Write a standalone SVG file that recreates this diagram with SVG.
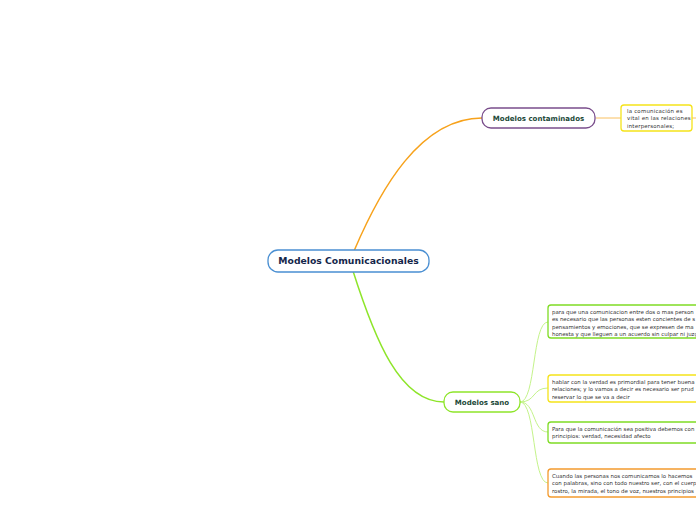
<svg xmlns="http://www.w3.org/2000/svg" width="696" height="520" viewBox="0 0 696 520">
<style>
.node{fill:#fff;stroke-width:1.3}
.main{font-family:"DejaVu Sans",sans-serif;font-weight:bold;font-size:9.25px;fill:#14264a}
.sub{font-family:"DejaVu Sans",sans-serif;font-weight:bold;font-size:7.05px;fill:#1d4a3a}
.sm{font-family:"DejaVu Sans",sans-serif;font-size:5.45px;fill:#333}
.wide{letter-spacing:0.2px}
.c{fill:none}
</style>
<rect width="696" height="520" fill="#fff"/>
<g id="connectors">
<path class="c" d="M354,251 C380,190 420,118 482,118" stroke="#f7a21b" stroke-width="1.5"/>
<path class="c" d="M596,118 L621,118" stroke="#f9c060" stroke-width="1"/>
<path class="c" d="M692,118 L696,118" stroke="#f9c060" stroke-width="1"/>
<path class="c" d="M353,271 C375,340 400,402 444,402" stroke="#8ee52a" stroke-width="1.5"/>
<path class="c" d="M520,402 C536,402 532,322 548,322" stroke="#c4f38a" stroke-width="1"/>
<path class="c" d="M520,402 C536,402 532,388 548,388" stroke="#c4f38a" stroke-width="1"/>
<path class="c" d="M520,402 C536,402 532,432 548,432" stroke="#c4f38a" stroke-width="1"/>
<path class="c" d="M520,402 C536,402 532,483 548,483" stroke="#c4f38a" stroke-width="1"/>
</g>
<g id="center">
<rect class="node" x="268" y="250" width="161" height="22" rx="10" stroke="#4a8fd2"/>
<text class="main" x="348.5" y="264.3" text-anchor="middle">Modelos Comunicacionales</text>
</g>
<g id="contaminados">
<rect class="node" x="482" y="108" width="113" height="20" rx="9" stroke="#7a4e8c"/>
<text class="sub" x="538.5" y="120.7" text-anchor="middle">Modelos contaminados</text>
</g>
<g id="cont-child">
<rect class="node" x="621" y="105" width="71" height="26" rx="3" stroke="#f5e31a"/>
<text class="sm wide" x="627" y="113">la comunicación es</text>
<text class="sm wide" x="627" y="120.3">vital en las relaciones</text>
<text class="sm wide" x="627" y="127.6">interpersonales;</text>
</g>
<g id="sano">
<rect class="node" x="444" y="392" width="76" height="20" rx="9" stroke="#8ee52a"/>
<text class="sub" x="482" y="404.7" text-anchor="middle">Modelos sano</text>
</g>
<g id="sano-1">
<rect class="node" x="548" y="305" width="152" height="33" rx="3" stroke="#7fdc24"/>
<text class="sm" x="552" y="314">para que una comunicacion entre dos o mas person</text>
<text class="sm" x="552" y="321.3">es necesario que las personas esten concientes de s</text>
<text class="sm" x="552" y="328.6">pensamientos y emociones, que se expresen de ma</text>
<text class="sm" x="552" y="335.9">honesta y que lleguen a un acuerdo sin culpar ni juzg</text>
</g>
<g id="sano-2">
<rect class="node" x="548" y="375" width="152" height="27" rx="3" stroke="#f5e31a"/>
<text class="sm" x="552" y="384">hablar con la verdad es primordial para tener buena</text>
<text class="sm" x="552" y="391.3">relaciones; y lo vamos a decir es necesario ser prud</text>
<text class="sm" x="552" y="398.6">reservar lo que se va a decir</text>
</g>
<g id="sano-3">
<rect class="node" x="548" y="422" width="152" height="21" rx="3" stroke="#7fdc24"/>
<text class="sm" x="552" y="431">Para que la comunicación sea positiva debemos con</text>
<text class="sm" x="552" y="438.3">principios: verdad, necesidad  afecto</text>
</g>
<g id="sano-4">
<rect class="node" x="548" y="469" width="152" height="28" rx="3" stroke="#f39a2e"/>
<text class="sm" x="552" y="478">Cuando las personas nos comunicamos lo hacemos</text>
<text class="sm" x="552" y="485.3">con palabras, sino con todo nuestro ser, con el cuerp</text>
<text class="sm" x="552" y="492.6">rostro, la mirada, el tono de voz, nuestros principios</text>
</g>
</svg>
